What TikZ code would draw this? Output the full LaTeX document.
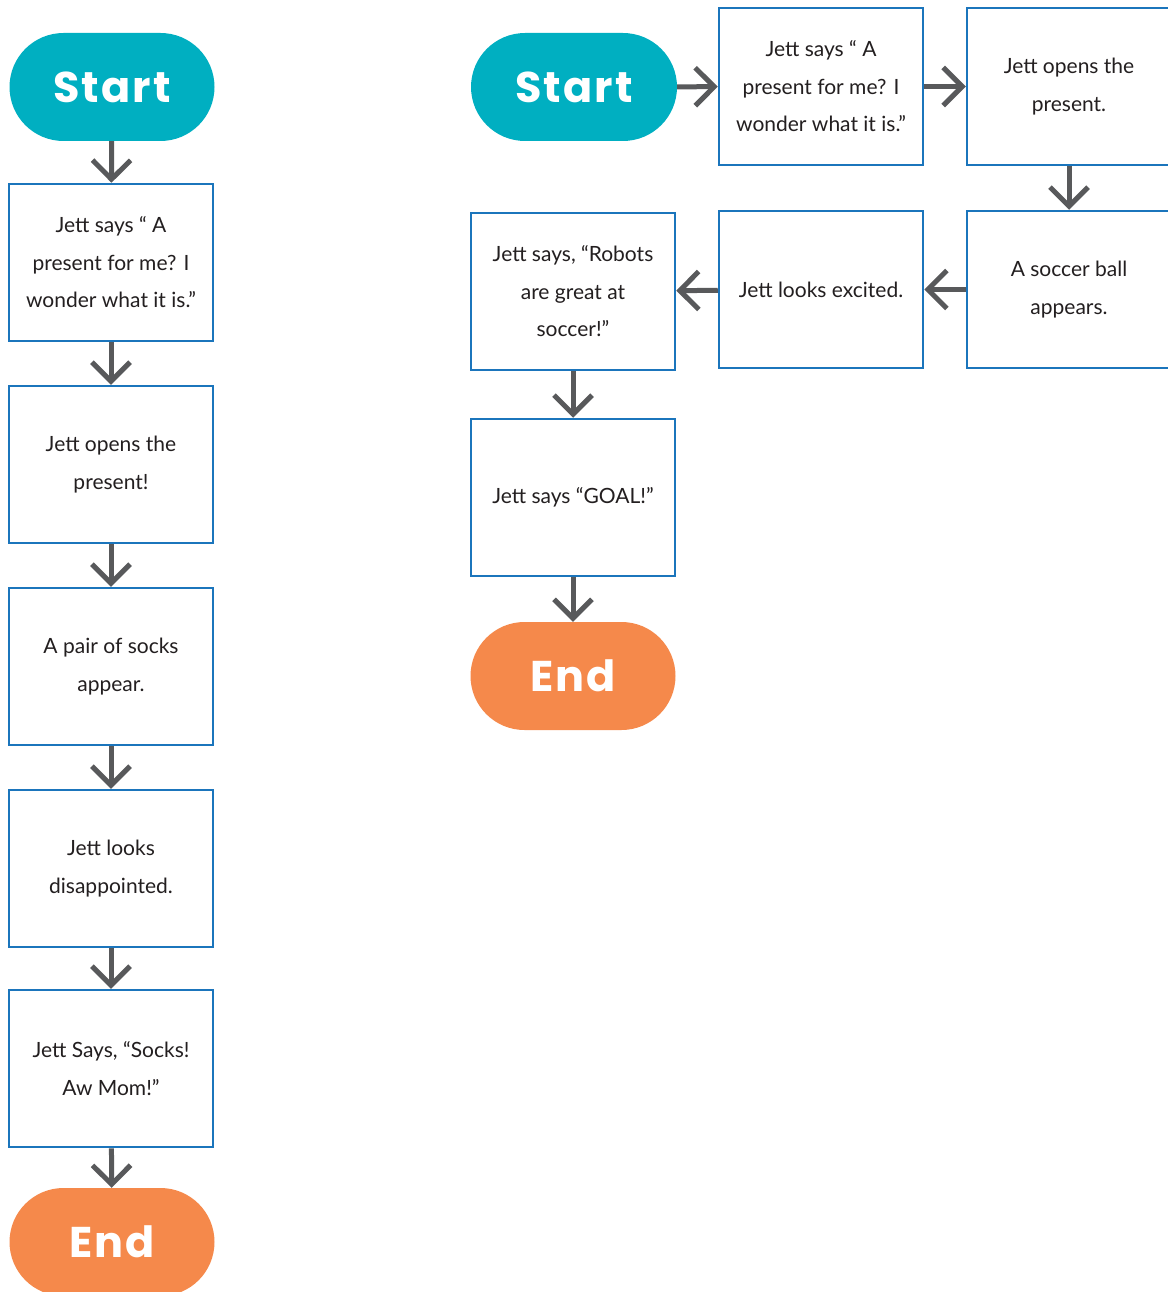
\documentclass[tikz,border=0pt]{standalone}
\usepackage{fontspec}
\setmainfont{Lato}
\newfontfamily\headfont[LetterSpace=5]{Poppins}
\usetikzlibrary{arrows.meta}
\definecolor{boxblue}{HTML}{1B75BC}
\definecolor{startteal}{HTML}{00AFC1}
\definecolor{endorange}{HTML}{F5894B}
\definecolor{arrgray}{HTML}{58595B}
\definecolor{txtgray}{HTML}{231F20}
\tikzset{
  stepbox/.style={draw=boxblue, line width=2.5pt, fill=white, minimum width=204pt, minimum height=157pt,
    align=center, inner sep=0pt, font=\fontsize{21pt}{37.5pt}\selectfont, text=txtgray},
  term/.style={rounded corners=54pt, minimum width=205pt, minimum height=108pt, inner sep=0pt,
    text=white, font=\fontsize{43pt}{50pt}\selectfont\headfont\bfseries},
  startterm/.style={term, fill=startteal},
  endterm/.style={term, fill=endorange},
  arr/.style={draw=arrgray, line width=5pt, -{Straight Barb[length=19pt,width=38pt,line width=5pt]}}
}
\begin{document}
\begin{tikzpicture}[x=1pt,y=-1pt]
\useasboundingbox (0,0) rectangle (1167,1292);
% left column
\node[startterm] (ls) at (112,87) {Start};
\node[stepbox] (l1) at (111,262.5) {Jett says \textquotedblleft\ A\\present for me? I\\wonder what it is.\textquotedblright};
\node[stepbox] (l2) at (111,464.5) {Jett opens the\\present!};
\node[stepbox] (l3) at (111,666.5) {A pair of socks\\appear.};
\node[stepbox] (l4) at (111,868.5) {Jett looks\\disappointed.};
\node[stepbox] (l5) at (111,1068.5) {Jett Says, \textquotedblleft Socks!\\Aw Mom!\textquotedblright};
\node[endterm] (le) at (112,1242) {End};
\draw[arr] (ls) -- (l1);
\draw[arr] (l1) -- (l2);
\draw[arr] (l2) -- (l3);
\draw[arr] (l3) -- (l4);
\draw[arr] (l4) -- (l5);
\draw[arr] (l5) -- (le);
% right
\node[startterm, minimum width=206pt] (rs) at (574,87) {Start};
\node[stepbox] (r1) at (821,86.5) {Jett says \textquotedblleft\ A\\present for me? I\\wonder what it is.\textquotedblright};
\node[stepbox] (r2) at (1069,86.5) {Jett opens the\\present.};
\node[stepbox] (r3) at (1069,289.5) {A soccer ball\\appears.};
\node[stepbox] (r4) at (821,289.5) {Jett looks excited.};
\node[stepbox] (r5) at (573,291.5) {Jett says, \textquotedblleft Robots\\are great at\\soccer!\textquotedblright};
\node[stepbox] (r6) at (573,497.5) {Jett says \textquotedblleft GOAL!\textquotedblright};
\node[endterm] (re) at (573,676) {End};
\draw[arr] (rs) -- (r1);
\draw[arr] (r1) -- (r2);
\draw[arr] (r2) -- (r3);
\draw[arr] (r3.west) -- (r4.east |- r3.west);
\draw[arr] (r4) -- (r5);
\draw[arr] (r5) -- (r6);
\draw[arr] (r6) -- (re);
\end{tikzpicture}
\end{document}
